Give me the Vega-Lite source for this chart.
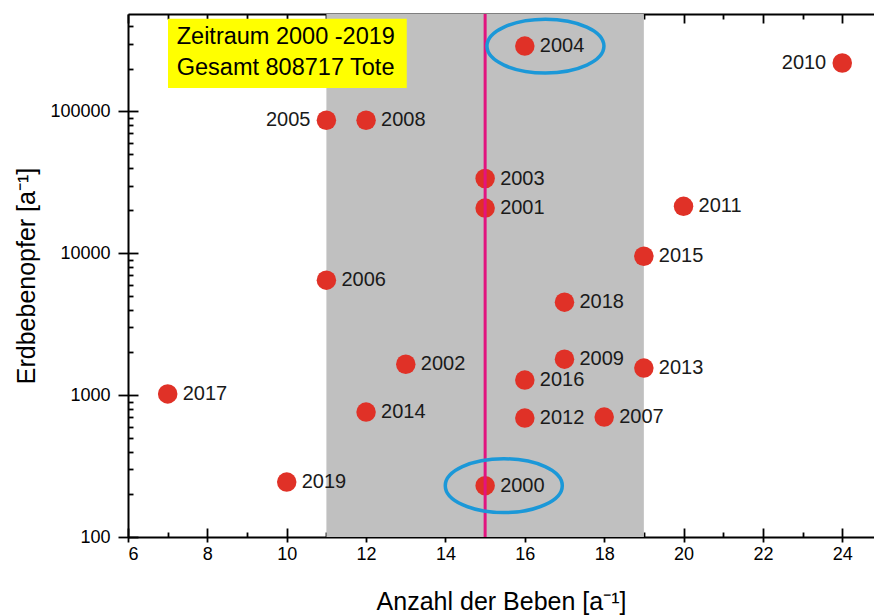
{
  "$schema": "https://vega.github.io/schema/vega-lite/v6.json",
  "width": 746,
  "height": 523,
  "autosize": {"type": "none"},
  "padding": {"left": 128, "top": 14, "right": 0, "bottom": 79},
  "background": "white",
  "config": {
    "view": {"stroke": null},
    "axis": {"domainColor": "black", "tickColor": "black", "labelColor": "black", "titleColor": "black", "labelFont": "Liberation Sans", "titleFont": "Liberation Sans", "grid": false, "zindex": 1, "domainWidth": 2, "tickWidth": 1.8, "labelFontSize": 18, "titleFontSize": 25, "titleFontWeight": "normal"},
    "text": {"font": "Liberation Sans"}
  },
  "datasets": {
    "quakes": [
      {"year": "2000", "n": 15, "deaths": 230, "side": "r"},
      {"year": "2001", "n": 15, "deaths": 20800, "side": "r"},
      {"year": "2002", "n": 13, "deaths": 1650, "side": "r"},
      {"year": "2003", "n": 15, "deaths": 33600, "side": "r"},
      {"year": "2004", "n": 16, "deaths": 288000, "side": "r"},
      {"year": "2005", "n": 11, "deaths": 86500, "side": "l"},
      {"year": "2006", "n": 11, "deaths": 6450, "side": "r"},
      {"year": "2007", "n": 18, "deaths": 700, "side": "r"},
      {"year": "2008", "n": 12, "deaths": 86500, "side": "r"},
      {"year": "2009", "n": 17, "deaths": 1790, "side": "r"},
      {"year": "2010", "n": 24, "deaths": 219000, "side": "l"},
      {"year": "2011", "n": 20, "deaths": 21400, "side": "r"},
      {"year": "2012", "n": 16, "deaths": 689, "side": "r"},
      {"year": "2013", "n": 19, "deaths": 1550, "side": "r"},
      {"year": "2014", "n": 12, "deaths": 759, "side": "r"},
      {"year": "2015", "n": 19, "deaths": 9520, "side": "r"},
      {"year": "2016", "n": 16, "deaths": 1276, "side": "r"},
      {"year": "2017", "n": 7, "deaths": 1020, "side": "r"},
      {"year": "2018", "n": 17, "deaths": 4520, "side": "r"},
      {"year": "2019", "n": 10, "deaths": 244, "side": "r"}
    ]
  },
  "layer": [
    {
      "data": {"values": [{"a": 11, "b": 19}]},
      "mark": {"type": "rect", "color": "#c0c0c0"},
      "encoding": {
        "x": {"field": "a", "type": "quantitative", "scale": {"domain": [6, 24.8], "nice": false, "zero": false},
          "axis": {"orient": "bottom", "values": [6, 8, 10, 12, 14, 16, 18, 20, 22, 24], "tickSize": 5, "labelPadding": 3, "title": "Anzahl der Beben [a⁻¹]", "titlePadding": 26}},
        "x2": {"field": "b"}
      }
    },
    {
      "data": {"values": [{"x0": 7.008, "x1": 13.025, "y0": 145900, "y1": 449800}]},
      "mark": {"type": "rect", "color": "#ffff00"},
      "encoding": {
        "x": {"field": "x0", "type": "quantitative", "scale": {"domain": [6, 24.8], "nice": false, "zero": false},
          "axis": {"orient": "bottom", "values": [7, 9, 11, 13, 15, 17, 19, 21, 23], "tickSize": -5, "labels": false, "domain": false, "title": null}},
        "x2": {"field": "x1"},
        "y": {"field": "y0", "type": "quantitative", "scale": {"type": "log", "domain": [100, 485000], "nice": false},
          "axis": {"orient": "left", "values": [100, 1000, 10000, 100000], "format": "d", "tickSize": 10, "labelPadding": 8, "title": "Erdbebenopfer [a⁻¹]", "titlePadding": 10}},
        "y2": {"field": "y1"}
      }
    },
    {
      "data": {"values": [{"x": 7.228, "y": 300000, "t": "Zeitraum 2000 -2019"}, {"x": 7.228, "y": 179300, "t": "Gesamt 808717 Tote"}]},
      "mark": {"type": "text", "align": "left", "baseline": "alphabetic", "fontSize": 23.5, "color": "black"},
      "encoding": {
        "x": {"field": "x", "type": "quantitative", "scale": {"domain": [6, 24.8], "nice": false, "zero": false},
          "axis": {"orient": "bottom", "values": [6, 8, 10, 12, 14, 16, 18, 20, 22, 24], "tickSize": -9, "labels": false, "domain": false, "title": null}},
        "y": {"field": "y", "type": "quantitative", "scale": {"type": "log", "domain": [100, 485000], "nice": false},
          "axis": {"orient": "left", "values": [100, 1000, 10000, 100000], "tickSize": -10, "labels": false, "domain": false, "title": null}},
        "text": {"field": "t"}
      }
    },
    {
      "data": {"name": "quakes"},
      "mark": {"type": "point", "shape": "circle", "filled": true, "size": 380, "color": "#e03127", "opacity": 1},
      "encoding": {
        "x": {"field": "n", "type": "quantitative", "scale": {"domain": [6, 24.8], "nice": false, "zero": false},
          "axis": {"orient": "top", "values": [6, 8, 10, 12, 14, 16, 18, 20, 22, 24], "tickSize": -9, "labels": false, "domain": true, "title": null}},
        "y": {"field": "deaths", "type": "quantitative", "scale": {"type": "log", "domain": [100, 485000], "nice": false},
          "axis": {"orient": "left", "values": [200, 300, 400, 500, 600, 700, 800, 900, 2000, 3000, 4000, 5000, 6000, 7000, 8000, 9000, 20000, 30000, 40000, 50000, 60000, 70000, 80000, 90000, 200000, 300000, 400000], "tickSize": -5, "labels": false, "domain": false, "title": null}}
      }
    },
    {
      "data": {"name": "quakes"},
      "transform": [{"filter": "datum.side == 'r'"}],
      "mark": {"type": "text", "align": "left", "baseline": "middle", "dx": 15, "fontSize": 20, "color": "#1a1a1a"},
      "encoding": {
        "x": {"field": "n", "type": "quantitative", "scale": {"domain": [6, 24.8], "nice": false, "zero": false},
          "axis": {"orient": "top", "values": [7, 9, 11, 13, 15, 17, 19, 21, 23], "tickSize": -5, "labels": false, "domain": false, "title": null}},
        "y": {"field": "deaths", "type": "quantitative", "scale": {"type": "log", "domain": [100, 485000], "nice": false}, "axis": null},
        "text": {"field": "year"}
      }
    },
    {
      "data": {"name": "quakes"},
      "transform": [{"filter": "datum.side == 'l'"}],
      "mark": {"type": "text", "align": "right", "baseline": "middle", "dx": -16, "fontSize": 20, "color": "#1a1a1a"},
      "encoding": {
        "x": {"field": "n", "type": "quantitative", "scale": {"domain": [6, 24.8], "nice": false, "zero": false}, "axis": null},
        "y": {"field": "deaths", "type": "quantitative", "scale": {"type": "log", "domain": [100, 485000], "nice": false}, "axis": null},
        "text": {"field": "year"}
      }
    },
    {
      "data": {"values": [{"v": 15}]},
      "mark": {"type": "rule", "color": "#e2147f", "strokeWidth": 3},
      "encoding": {
        "x": {"field": "v", "type": "quantitative", "scale": {"domain": [6, 24.8], "nice": false, "zero": false}, "axis": null}
      }
    },
    {
      "data": {"values": [{"x": 16.52, "y": 288000}, {"x": 15.47, "y": 230}]},
      "mark": {"type": "point", "shape": "M -1 0 A 1 0.46 0 1 0 1 0 A 1 0.46 0 1 0 -1 0 Z", "size": 13689, "filled": false, "stroke": "#1b98d8", "strokeWidth": 3.5, "opacity": 1},
      "encoding": {
        "x": {"field": "x", "type": "quantitative", "scale": {"domain": [6, 24.8], "nice": false, "zero": false}, "axis": null},
        "y": {"field": "y", "type": "quantitative", "scale": {"type": "log", "domain": [100, 485000], "nice": false}, "axis": null}
      }
    }
  ],
  "resolve": {"axis": {"x": "independent", "y": "independent"}}
}
